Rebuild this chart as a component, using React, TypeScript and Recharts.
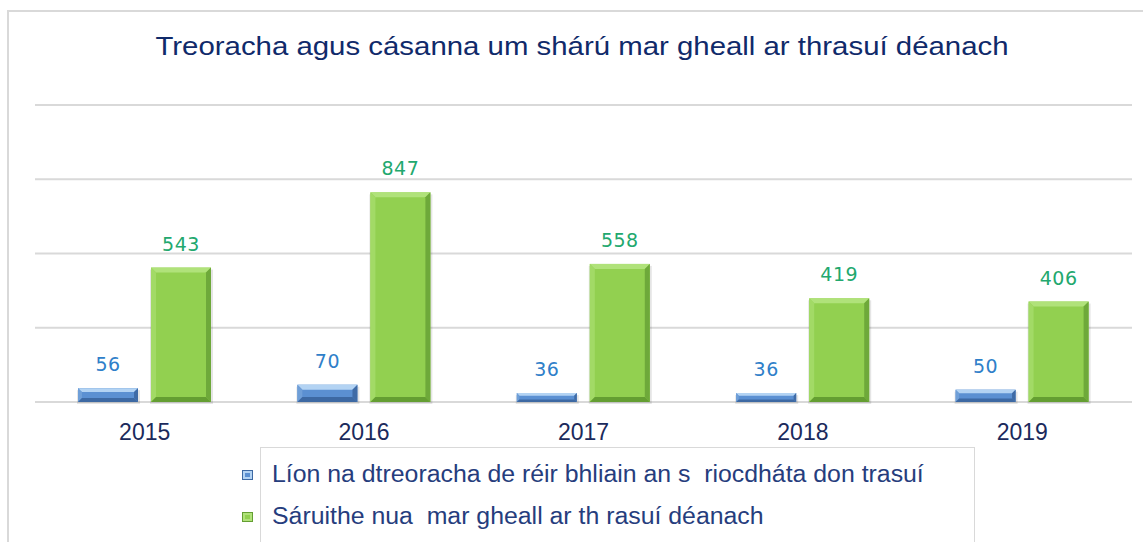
import React from "react";
import { BarChart, Bar, XAxis, YAxis, CartesianGrid, Legend, LabelList } from "recharts";

const years = ["2015", "2016", "2017", "2018", "2019"];
const guidance = [56, 70, 36, 36, 50];
const breaches = [543, 847, 558, 419, 406];
const yTicks = [0, 300, 600, 900, 1200];
const seriesNames = [
  "Líon na dtreoracha de réir bhliain an s  riocdháta don trasuí",
  "Sáruithe nua  mar gheall ar th rasuí déanach",
];
const title = "Treoracha agus cásanna um shárú mar gheall ar thrasuí déanach";

const data = years.map((year, i) => ({
  year,
  guidance: guidance[i],
  breaches: breaches[i],
}));

// bevel colours for the two series
const blue = { face: "#5b90d2", top: "#b3d3f3", left: "#6f9fd8", right: "#3f6ba6", bottom: "#3d69a3", label: "#2f80c9" };
const green = { face: "#92d050", top: "#b0e27a", left: "#a2da66", right: "#6ea93a", bottom: "#649e32", label: "#22a86e" };

function BevelBar(props: any) {
  const { x, y, width, height, pal } = props;
  if (!height || height <= 0) return null;
  const b = Math.min(5, height / 3.5);
  const x2 = x + width;
  const y2 = y + height;
  return (
    <g>
      <rect x={x - 1} y={y + 2} width={width + 3} height={height} fill="rgba(0,0,0,0.10)" />
      <rect x={x} y={y} width={width} height={height} fill={pal.face} />
      <polygon points={`${x},${y} ${x2},${y} ${x2 - b},${y + b} ${x + b},${y + b}`} fill={pal.top} />
      <polygon points={`${x},${y} ${x + b},${y + b} ${x + b},${y2 - b} ${x},${y2}`} fill={pal.left} />
      <polygon points={`${x2},${y} ${x2},${y2} ${x2 - b},${y2 - b} ${x2 - b},${y + b}`} fill={pal.right} />
      <polygon points={`${x},${y2} ${x + b},${y2 - b} ${x2 - b},${y2 - b} ${x2},${y2}`} fill={pal.bottom} />
    </g>
  );
}

const makeLabel = (color: string) => (props: any) => {
  const { x, y, width, value } = props;
  return (
    <text
      x={x + width / 2}
      y={y - 17}
      textAnchor="middle"
      fill={color}
      fontSize={19}
      fontFamily="DejaVu Sans"
      letterSpacing={0.5}
    >
      {value}
    </text>
  );
};

const YearTick = (props: any) => (
  <text
    x={props.x}
    y={props.y + 38}
    textAnchor="middle"
    fill="#1b2a5c"
    fontSize={23}
    fontFamily="Liberation Sans, Arial"
  >
    {props.payload.value}
  </text>
);

const renderLegend = (props: any) => {
  const items = props.payload || [];
  return (
    <div style={{ position: "relative", width: 740, height: 97 }}>
      <div
        style={{
          position: "absolute",
          left: 17,
          top: 0,
          width: 715,
          height: 97,
          border: "1px solid #d9d9d9",
          boxSizing: "border-box",
        }}
      />
      {items.map((entry: any, i: number) => {
        const pal = i === 0 ? blue : green;
        const cy = 28 + i * 42;
        return (
          <div key={i}>
            <div
              style={{
                position: "absolute",
                left: -1,
                top: cy - 5,
                width: 11,
                height: 10,
                background: pal.top,
                border: `1px solid ${pal.bottom}`,
                boxSizing: "border-box",
                padding: 2,
              }}
            >
              <div style={{ width: "100%", height: "100%", background: pal.face }} />
            </div>
            <div
              style={{
                position: "absolute",
                left: 29,
                top: cy - 14,
                fontSize: 23,
                lineHeight: "26px",
                whiteSpace: "pre",
                color: "#263d7d",
                fontFamily: "Liberation Sans, Arial",
                transform: "scaleX(1.08)",
                transformOrigin: "left center",
              }}
            >
              {entry.value}
            </div>
          </div>
        );
      })}
    </div>
  );
};

export default function App() {
  return (
    <div
      style={{
        position: "absolute",
        left: 0,
        top: 0,
        width: 1143,
        height: 542,
        overflow: "hidden",
        background: "#fff",
      }}
    >
      <div
        style={{
          position: "absolute",
          left: 7,
          top: 10,
          width: 1160,
          height: 560,
          border: "2px solid #d9d9d9",
        }}
      />
      <div
        style={{
          position: "absolute",
          left: 582,
          top: 31,
          transform: "translateX(-50%) scaleX(1.13)",
          whiteSpace: "nowrap",
          fontSize: 26,
          lineHeight: "30px",
          color: "#102a6a",
          fontFamily: "Liberation Sans, Arial",
        }}
      >
        {title}
      </div>
      <div style={{ position: "absolute", left: 0, top: 0 }}>
        <BarChart
          width={1143}
          height={542}
          data={data}
          margin={{ top: 105, right: 11, bottom: 100, left: 35 }}
          barSize={60}
          barGap={13}
        >
          <CartesianGrid vertical={false} stroke="#d9d9d9" strokeWidth={2} />
          <XAxis
            dataKey="year"
            axisLine={false}
            tickLine={false}
            tickSize={0}
            tickMargin={0}
            height={40}
            tick={<YearTick />}
            interval={0}
          />
          <YAxis hide domain={[0, 1200]} ticks={yTicks} />
          <Legend
            layout="horizontal"
            verticalAlign="middle"
            align="center"
            content={renderLegend}
            wrapperStyle={{ top: 447, left: 243, width: 740, height: 97 }}
          />
          <Bar
            dataKey="guidance"
            name={seriesNames[0]}
            fill={blue.face}
            shape={<BevelBar pal={blue} />}
            isAnimationActive={false}
          >
            <LabelList dataKey="guidance" content={makeLabel(blue.label)} />
          </Bar>
          <Bar
            dataKey="breaches"
            name={seriesNames[1]}
            fill={green.face}
            shape={<BevelBar pal={green} />}
            isAnimationActive={false}
          >
            <LabelList dataKey="breaches" content={makeLabel(green.label)} />
          </Bar>
        </BarChart>
      </div>
    </div>
  );
}
